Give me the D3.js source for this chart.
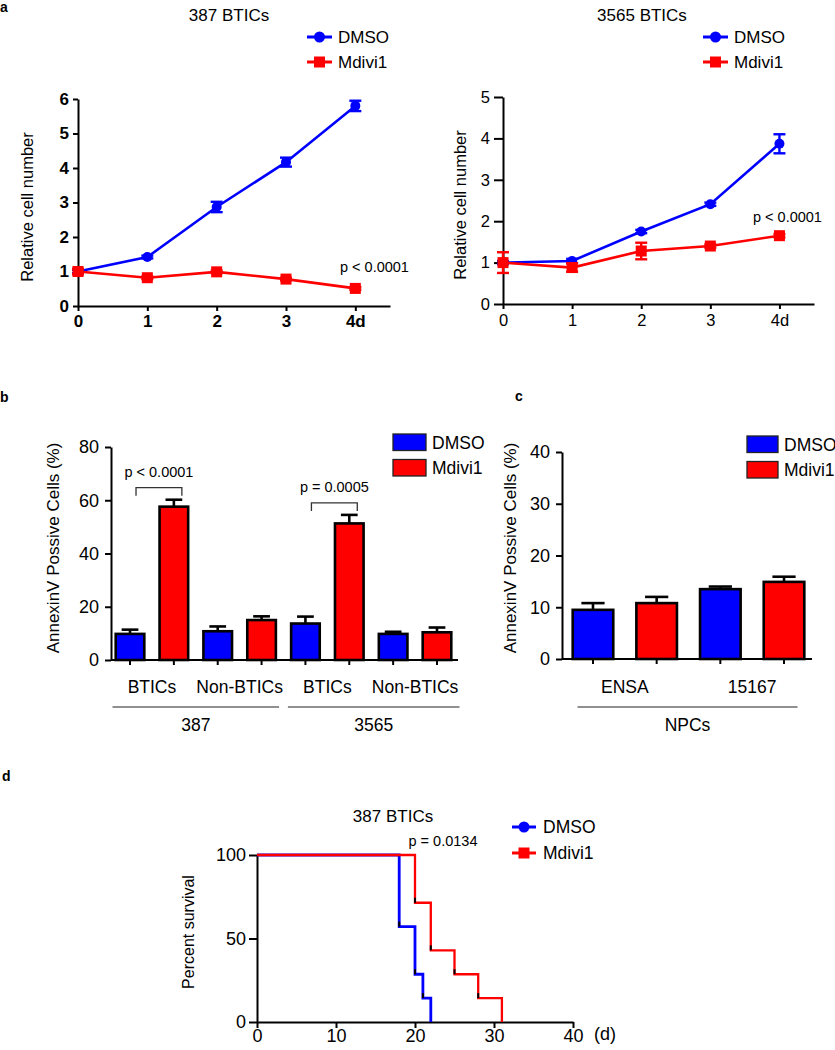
<!DOCTYPE html>
<html><head><meta charset="utf-8">
<script src="https://cdn.jsdelivr.net/npm/d3@7/dist/d3.min.js"></script>
<style>
body{margin:0;background:#fff}
text{font-family:"Liberation Sans",Arial,Helvetica,sans-serif;fill:#000}
</style>
</head><body>
<svg id="chart" width="835" height="1050"></svg>
<script>
// ---------- DATA ----------
// Panel a: growth curves
const days = [0, 1, 2, 3, 4];
const dayLabels = ["0", "1", "2", "3", "4d"];
const a387Dmso = [1.0, 1.42, 2.87, 4.17, 5.80];
const a387DmsoErr = [0.05, 0.04, 0.15, 0.13, 0.15];
const a387Mdivi = [1.0, 0.82, 0.99, 0.78, 0.51];
const a387MdiviErr = [0.08, 0.04, 0.04, 0.04, 0.04];
const a3565Dmso = [1.0, 1.04, 1.75, 2.41, 3.87];
const a3565DmsoErr = [0.04, 0.05, 0.04, 0.04, 0.23];
const a3565Mdivi = [1.0, 0.88, 1.28, 1.40, 1.65];
const a3565MdiviErr = [0.25, 0.10, 0.20, 0.04, 0.04];
const aTicks387 = [0, 1, 2, 3, 4, 5, 6];
const aTicks3565 = [0, 1, 2, 3, 4, 5];

// Panel b: AnnexinV in BTICs / non-BTICs
const bCatLabels = ["BTICs", "Non-BTICs", "BTICs", "Non-BTICs"];
const bCellLines = ["387", "3565"];
const bDmso = [9.8, 10.8, 13.7, 9.8];
const bDmsoErr = [1.6, 1.8, 2.6, 0.8];
const bMdivi = [57.6, 15.0, 51.3, 10.4];
const bMdiviErr = [2.6, 1.4, 3.2, 1.8];
const bTicks = [0, 20, 40, 60, 80];
const bPvals = ["p < 0.0001", "p = 0.0005"];

// Panel c: AnnexinV in NPCs
const cCatLabels = ["ENSA", "15167"];
const cGroup = "NPCs";
const cDmso = [9.5, 13.5];
const cDmsoErr = [1.3, 0.5];
const cMdivi = [10.8, 14.9];
const cMdiviErr = [1.2, 1.0];
const cTicks = [0, 10, 20, 30, 40];

// Panel d: survival (day, percent)
const dDays = [0, 10, 20, 30, 40];
const dTicks = [0, 50, 100];
const dDmsoDay = [0, 18, 20, 21, 22];
const dDmsoPct = [100, 57.1, 28.6, 14.3, 0];
const dMdiviDay = [0, 20, 22, 25, 28, 31];
const dMdiviPct = [100, 71.4, 42.9, 28.6, 14.3, 0];

const BLUE = "#0000ff", RED = "#ff0000";
const svg = d3.select("#chart");
svg.append("rect").attr("width", 835).attr("height", 1050).attr("fill", "#fff");
const fmt = d3.format("d");

function styleAxis(g, fs, bold) {
  g.select(".domain").attr("stroke", "#000").attr("stroke-width", 2);
  g.selectAll(".tick line").attr("stroke", "#000").attr("stroke-width", 2);
  g.selectAll(".tick text").attr("font-size", fs).attr("font-weight", bold ? "bold" : "normal")
    .attr("font-family", '"Liberation Sans",Arial,sans-serif').attr("fill", "#000");
}
function txt(x, y, s, fs, anchor, weight) {
  return svg.append("text").attr("x", x).attr("y", y).attr("font-size", fs)
    .attr("text-anchor", anchor || "start").attr("font-weight", weight || "normal").text(s);
}
function ylabel(x, y, s, fs) {
  return svg.append("text").attr("transform", `translate(${x},${y}) rotate(-90)`)
    .attr("font-size", fs).attr("text-anchor", "middle").text(s);
}

// panel labels
txt(0, 12, "a", 14, "start", "bold");
txt(0, 402, "b", 14, "start", "bold");
txt(515, 401, "c", 14, "start", "bold");
txt(2, 781, "d", 14, "start", "bold");

// ---------- Panel a ----------
function linePanel(o) {
  const x = d3.scaleLinear().domain([0, 4.5]).range([o.x0, o.x1]);
  const y = d3.scaleLinear().domain([0, o.ymax]).range([o.yb, o.yt]);
  const gx = svg.append("g").attr("transform", `translate(0,${o.yb})`)
    .call(d3.axisBottom(x).tickValues(days).tickFormat((d, i) => dayLabels[i]).tickSize(5).tickSizeOuter(0).tickPadding(o.xpad));
  styleAxis(gx, o.tfs, o.bold);
  const gy = svg.append("g").attr("transform", `translate(${o.x0},0)`)
    .call(d3.axisLeft(y).tickValues(o.ticks).tickFormat(fmt).tickSize(o.ytick).tickSizeOuter(0).tickPadding(4));
  styleAxis(gy, o.tfs, o.bold);
  const line = d3.line().x((d, i) => x(days[i])).y(d => y(d));
  const series = [
    {v: o.dmso, e: o.dmsoErr, c: BLUE, m: "circle"},
    {v: o.mdivi, e: o.mdiviErr, c: RED, m: "square"}
  ];
  series.forEach(s => {
    svg.append("path").datum(s.v).attr("d", line).attr("fill", "none").attr("stroke", s.c).attr("stroke-width", 2.6);
    s.v.forEach((v, i) => {
      const cx = x(days[i]);
      const g = svg.append("g").attr("stroke", s.c).attr("stroke-width", 2.4);
      g.append("line").attr("x1", cx).attr("x2", cx).attr("y1", y(v - s.e[i])).attr("y2", y(v + s.e[i]));
      [v - s.e[i], v + s.e[i]].forEach(w => g.append("line").attr("x1", cx - 6).attr("x2", cx + 6).attr("y1", y(w)).attr("y2", y(w)));
      if (s.m === "circle") svg.append("circle").attr("cx", cx).attr("cy", y(v)).attr("r", 5).attr("fill", s.c);
      else svg.append("rect").attr("x", cx - 5.5).attr("y", y(v) - 5.5).attr("width", 11).attr("height", 11).attr("fill", s.c);
    });
  });
  // title + legend
  txt(o.titleX, 21, o.title, 17, "middle");
  const lx = o.legX;
  svg.append("line").attr("x1", lx).attr("x2", lx + 25).attr("y1", 37).attr("y2", 37).attr("stroke", BLUE).attr("stroke-width", 3);
  svg.append("circle").attr("cx", lx + 12.5).attr("cy", 37).attr("r", 5.5).attr("fill", BLUE);
  svg.append("line").attr("x1", lx).attr("x2", lx + 25).attr("y1", 62).attr("y2", 62).attr("stroke", RED).attr("stroke-width", 3);
  svg.append("rect").attr("x", lx + 7).attr("y", 56.5).attr("width", 11).attr("height", 11).attr("fill", RED);
  txt(lx + 31, 43, "DMSO", 17);
  txt(lx + 31, 68, "Mdivi1", 17);
  ylabel(o.ylabX, o.ylabY, "Relative cell number", 16.5);
  txt(o.pX, o.pY, "p < 0.0001", 14.5);
}
linePanel({x0: 78, x1: 390, yb: 306, yt: 99, ymax: 6, ticks: aTicks387, bold: true, tfs: 17, xpad: 4, ytick: 5,
  dmso: a387Dmso, dmsoErr: a387DmsoErr, mdivi: a387Mdivi, mdiviErr: a387MdiviErr,
  title: "387 BTICs", titleX: 229, legX: 307, ylabX: 33, ylabY: 207, pX: 340, pY: 272});
linePanel({x0: 503, x1: 814, yb: 304, yt: 97, ymax: 5, ticks: aTicks3565, bold: false, tfs: 16.5, xpad: 5, ytick: 9,
  dmso: a3565Dmso, dmsoErr: a3565DmsoErr, mdivi: a3565Mdivi, mdiviErr: a3565MdiviErr,
  title: "3565 BTICs", titleX: 642, legX: 703, ylabX: 466, ylabY: 205, pX: 753, pY: 222});

// ---------- Bar panels ----------
function barPanel(o) {
  const bars = [];
  o.dmso.forEach((v, i) => {
    bars.push({k: i * 2, v: v, e: o.dmsoErr[i], c: BLUE});
    bars.push({k: i * 2 + 1, v: o.mdivi[i], e: o.mdiviErr[i], c: RED});
  });
  const x = d3.scaleBand().domain(bars.map(b => b.k)).range([o.x0, o.x1]).paddingInner(o.pi).paddingOuter(o.po);
  const y = d3.scaleLinear().domain([0, o.ymax]).range([o.yb, o.yt]);
  const bw = x.bandwidth();
  // error bars (upper only)
  bars.forEach(b => {
    const cx = x(b.k) + bw / 2;
    svg.append("line").attr("x1", cx).attr("x2", cx).attr("y1", y(b.v)).attr("y2", y(b.v + b.e)).attr("stroke", "#000").attr("stroke-width", 2.6);
    svg.append("line").attr("x1", cx - bw * 0.27).attr("x2", cx + bw * 0.27).attr("y1", y(b.v + b.e)).attr("y2", y(b.v + b.e)).attr("stroke", "#000").attr("stroke-width", 2.6);
  });
  svg.selectAll(null).data(bars).enter().append("rect")
    .attr("x", b => x(b.k) + 1.2).attr("width", bw - 2.4)
    .attr("y", b => y(b.v)).attr("height", b => y(0) - y(b.v))
    .attr("fill", b => b.c).attr("stroke", "#000").attr("stroke-width", 2.6);
  const gy = svg.append("g").attr("transform", `translate(${o.x0},0)`)
    .call(d3.axisLeft(y).tickValues(o.ticks).tickFormat(fmt).tickSize(6).tickSizeOuter(0).tickPadding(6));
  styleAxis(gy, 18, false);
  const gx = svg.append("g").attr("transform", `translate(0,${o.yb})`)
    .call(d3.axisBottom(x).tickSize(5).tickSizeOuter(0).tickFormat(""));
  styleAxis(gx, 17, false);
  gx.select(".domain").attr("d", `M${o.x0},0H${o.axEnd}`);
  // category labels
  o.cats.forEach((c, i) => {
    const cx = (x(i * 2) + x(i * 2 + 1) + bw) / 2;
    txt(cx, 693, c, 17.5, "middle");
  });
  // legend
  [["DMSO", BLUE], ["Mdivi1", RED]].forEach((d, i) => {
    svg.append("rect").attr("x", o.legX).attr("y", o.legY + i * 25.5).attr("width", o.legW).attr("height", 16.5)
      .attr("fill", d[1]).attr("stroke", "#222").attr("stroke-width", 1.3);
    txt(o.legX + o.legW + 6, o.legY + i * 25.5 + 14.5, d[0], 17.5);
  });
  ylabel(o.ylabX, 548, "AnnexinV Possive Cells (%)", 17);
  return {x, y, bw};
}

const pb = barPanel({x0: 111, x1: 456, axEnd: 458, yb: 660, yt: 447, ymax: 80, ticks: bTicks, pi: 0.293, po: 0.08,
  dmso: bDmso, dmsoErr: bDmsoErr, mdivi: bMdivi, mdiviErr: bMdiviErr, cats: bCatLabels,
  legX: 393, legY: 434, legW: 33, ylabX: 59});
// group lines for b
bCellLines.forEach((s, g) => {
  const l = pb.x(g * 4) - 2, r = pb.x(g * 4 + 3) + pb.bw + (g === 0 ? 2 : 7);
  svg.append("line").attr("x1", l).attr("x2", r).attr("y1", 707).attr("y2", 707).attr("stroke", "#222").attr("stroke-width", 1.2);
  txt((l + r) / 2, 731, s, 17.5, "middle");
});
// significance brackets for b
bPvals.forEach((p, g) => {
  const xa = pb.x(g * 4) + pb.bw / 2 + 6, xb = pb.x(g * 4 + 1) + pb.bw / 2 + 8;
  const top = pb.y(bMdivi[g * 2] + bMdiviErr[g * 2]) - 12;
  svg.append("path").attr("d", `M${xa},${top + 8}V${top}H${xb}V${top + 8}`)
    .attr("fill", "none").attr("stroke", "#333").attr("stroke-width", 1.3);
  txt((xa + xb) / 2, top - 11, p, 14.5, "middle");
});

const pc = barPanel({x0: 562, x1: 815, axEnd: 812, yb: 659, yt: 452, ymax: 40, ticks: cTicks, pi: 0.325, po: 0.149,
  dmso: cDmso, dmsoErr: cDmsoErr, mdivi: cMdivi, mdiviErr: cMdiviErr, cats: cCatLabels,
  legX: 747, legY: 436, legW: 31, ylabX: 516});
{
  const l = pc.x(0) + 6, r = pc.x(3) + pc.bw - 8;
  svg.append("line").attr("x1", l).attr("x2", r).attr("y1", 707).attr("y2", 707).attr("stroke", "#222").attr("stroke-width", 1.2);
  txt((l + r) / 2, 731, cGroup, 17.5, "middle");
}

// ---------- Panel d ----------
{
  const x = d3.scaleLinear().domain([0, 40]).range([257, 573]);
  const y = d3.scaleLinear().domain([0, 100]).range([1022, 855]);
  const gx = svg.append("g").attr("transform", "translate(0,1022)")
    .call(d3.axisBottom(x).tickValues(dDays).tickFormat(fmt).tickSize(6).tickSizeOuter(0).tickPadding(1));
  styleAxis(gx, 18, false);
  const gy = svg.append("g").attr("transform", "translate(257,0)")
    .call(d3.axisLeft(y).tickValues(dTicks).tickFormat(fmt).tickSize(8).tickSizeOuter(0).tickPadding(3));
  styleAxis(gy, 18, false);
  txt(594, 1040, "(d)", 18);
  const line = d3.line().curve(d3.curveStepAfter);
  const curves = [
    {d: dDmsoDay, p: dDmsoPct, c: BLUE, w: 2.8},
    {d: dMdiviDay, p: dMdiviPct, c: RED, w: 2.3}
  ];
  curves.forEach(cv => {
    const pts = cv.d.map((d, i) => [x(d), y(cv.p[i])]);
    svg.append("path").attr("d", line(pts)).attr("fill", "none").attr("stroke", cv.c).attr("stroke-width", cv.w);
  });
  curves.forEach(cv => {
    cv.d.forEach((d, i) => {
      if (i === 0 || cv.p[i] === 0) return;
      svg.append("line").attr("x1", x(d)).attr("x2", x(d)).attr("y1", y(cv.p[i])).attr("y2", y(cv.p[i]) - 5)
        .attr("stroke", "#000").attr("stroke-width", 2);
    });
  });
  txt(393, 822, "387 BTICs", 17, "middle");
  txt(443, 846, "p = 0.0134", 14.5, "middle");
  const lx = 512;
  svg.append("line").attr("x1", lx).attr("x2", lx + 24).attr("y1", 827).attr("y2", 827).attr("stroke", BLUE).attr("stroke-width", 3);
  svg.append("circle").attr("cx", lx + 12).attr("cy", 827).attr("r", 5.5).attr("fill", BLUE);
  svg.append("line").attr("x1", lx).attr("x2", lx + 24).attr("y1", 853).attr("y2", 853).attr("stroke", RED).attr("stroke-width", 3);
  svg.append("rect").attr("x", lx + 6.5).attr("y", 847.5).attr("width", 11).attr("height", 11).attr("fill", RED);
  txt(lx + 31, 833, "DMSO", 17.5);
  txt(lx + 31, 859, "Mdivi1", 17.5);
  ylabel(194, 932, "Percent survival", 16);
}
</script>
</body></html>
